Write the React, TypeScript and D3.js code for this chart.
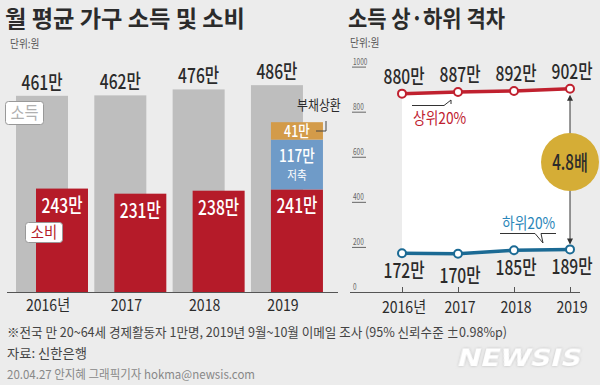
import { area, line, scaleBand, scaleLinear, scalePoint } from 'd3';

// Two panels: monthly household income vs spending (bars) and top/bottom 20% income gap (lines).

const years = ['2016', '2017', '2018', '2019'];
const yearLabels = ['2016년', '2017', '2018', '2019'];
const income = [461, 462, 476, 486];
const spending = [243, 231, 238, 241];
// 2019 breakdown stacked above spending
const extra2019 = [
  { key: 'save', value: 117, label: '117만', sub: '저축' },
  { key: 'debt', value: 41, label: '41만', sub: '' },
];
const top20 = [880, 887, 892, 902];
const bottom20 = [172, 170, 185, 189];
const bottomLabelDy = [25, 29, 25, 25];
const yTicks = [0, 200, 400, 600, 800, 1000];

const FONT = '"Noto Sans CJK KR", "Noto Sans", sans-serif';
const C = {
  bg: '#ececec',
  ink: '#2b2b2b',
  muted: '#555',
  grayBar: '#bebebe',
  red: '#b51b29',
  blueBar: '#6f9bc8',
  orange: '#d39b49',
  redLine: '#c0212f',
  blueLine: '#1b6a94',
  blueText: '#2b86b9',
  gold: '#d5ad36',
};

function T({
  x,
  y,
  size,
  sx = 0.8,
  anchor = 'middle',
  fill = C.ink,
  weight = 400,
  children,
}: {
  x: number;
  y: number;
  size: number;
  sx?: number;
  anchor?: 'start' | 'middle' | 'end';
  fill?: string;
  weight?: number;
  children: any;
}) {
  return (
    <text transform={`translate(${x},${y}) scale(${sx},1)`} textAnchor={anchor} fontSize={size} fill={fill} fontWeight={weight}>
      {children}
    </text>
  );
}

function IncomeBars() {
  const base = 292;
  const xs = scaleBand<string>().domain(years).range([16, 323]).paddingInner(0.08).paddingOuter(0);
  const ys = scaleLinear().domain([0, 500]).range([base, base - 212.8]);
  const barW = 52;
  const shift = 20;
  const last = years[years.length - 1]!;

  let acc = spending[spending.length - 1]!;
  const stacked = extra2019.map((d) => {
    const s = { ...d, y0: acc, y1: acc + d.value };
    acc += d.value;
    return s;
  });
  const stackColor: Record<string, string> = { save: C.blueBar, debt: C.orange };

  return (
    <g>
      {years.map((yr, i) => (
        <rect key={yr} x={xs(yr)!} y={ys(income[i]!)} width={barW} height={base - ys(income[i]!)} fill={C.grayBar} />
      ))}
      {years.map((yr, i) => (
        <rect key={yr} x={xs(yr)! + shift} y={ys(spending[i]!)} width={barW} height={base - ys(spending[i]!)} fill={C.red} />
      ))}
      {stacked.map((s) => (
        <rect key={s.key} x={xs(last)! + shift} y={ys(s.y1)} width={barW} height={ys(s.y0) - ys(s.y1)} fill={stackColor[s.key]} />
      ))}
      {years.map((yr, i) => (
        <T key={yr} x={xs(yr)! + barW / 2} y={ys(income[i]!) - 6} size={20} sx={0.78} weight={500}>
          {income[i]}만
        </T>
      ))}
      {years.map((yr, i) => (
        <T key={yr} x={xs(yr)! + shift + barW / 2} y={ys(spending[i]!) + 24} size={20} sx={0.78} weight={500} fill="#fff">
          {spending[i]}만
        </T>
      ))}
      {/* 2019 savings / debt labels */}
      <T x={xs(last)! + shift + barW / 2} y={ys(stacked[0]!.y1) + 22} size={17} sx={0.8} weight={500} fill="#fff">
        {stacked[0]!.label}
      </T>
      <T x={xs(last)! + shift + barW / 2} y={ys(stacked[0]!.y1) + 40} size={12} sx={0.88} fill="#fff">
        {stacked[0]!.sub}
      </T>
      <T x={xs(last)! + shift + barW / 2} y={ys(stacked[1]!.y1) + 15} size={16} sx={0.78} weight={500} fill="#fff">
        {stacked[1]!.label}
      </T>
      <T x={297} y={110} size={14} sx={0.85} anchor="start">
        부채상환
      </T>
      <path d="M326,121 V131 H316" fill="none" stroke="#444" strokeWidth={1} />

      {/* legend tags */}
      <rect x={5.5} y={101.5} width={38} height={23} rx={3} fill="#fff" stroke="#999" />
      <T x={24.5} y={119} size={17} sx={0.9} fill="#b0b0b0">소득</T>
      <rect x={25.5} y={222.5} width={37} height={20} rx={3} fill="#fff" stroke="#999" />
      <T x={44} y={238} size={16} sx={0.9} fill={C.red}>소비</T>

      <line x1={7} x2={338} y1={base + 0.5} y2={base + 0.5} stroke="#555" strokeWidth={1} />
      {years.map((yr, i) => (
        <T key={yr} x={xs(yr)! + xs.bandwidth() / 2 - 4} y={311} size={16} sx={0.88}>
          {yearLabels[i]}
        </T>
      ))}
    </g>
  );
}

function GapLines() {
  const base = 292;
  const xs = scalePoint<string>().domain(years).range([402, 570]);
  const ys = scaleLinear().domain([0, 1000]).range([base, 66.6]);
  const rows = years.map((yr, i) => ({ yr, hi: top20[i]!, lo: bottom20[i]! }));

  const band = area<(typeof rows)[number]>()
    .x((d) => xs(d.yr)!)
    .y0((d) => ys(d.lo))
    .y1((d) => ys(d.hi));
  const hiLine = line<(typeof rows)[number]>().x((d) => xs(d.yr)!).y((d) => ys(d.hi));
  const loLine = line<(typeof rows)[number]>().x((d) => xs(d.yr)!).y((d) => ys(d.lo));
  const xEnd = xs(years[years.length - 1]!)!;
  const hiEnd = ys(top20[top20.length - 1]!);
  const loEnd = ys(bottom20[bottom20.length - 1]!);
  const circleY = (hiEnd + loEnd) / 2 - 7;

  return (
    <g>
      <path d={band(rows) ?? undefined} fill="#fff" />
      {yTicks.map((t) => (
        <g key={t}>
          {t > 0 && <line x1={352} x2={366} y1={ys(t) + 0.5} y2={ys(t) + 0.5} stroke="#666" strokeWidth={1} />}
          <T x={353} y={ys(t) - 2} size={9} sx={0.72} anchor="start" fill="#666">
            {t}
          </T>
        </g>
      ))}
      <line x1={350} x2={580} y1={base + 0.5} y2={base + 0.5} stroke="#555" strokeWidth={1} />
      {years.map((yr, i) => (
        <g key={yr}>
          <line x1={xs(yr)! + 0.5} x2={xs(yr)! + 0.5} y1={base - 5} y2={base} stroke="#555" />
          <T x={xs(yr)! + 2} y={313} size={16} sx={0.88}>
            {yearLabels[i]}
          </T>
        </g>
      ))}

      {/* gap arrow + badge */}
      <line x1={xEnd} x2={xEnd} y1={hiEnd + 8} y2={loEnd - 6} stroke="#333" strokeWidth={1} />
      <path d={`M${xEnd},${hiEnd + 6} l-3,6 h6 z`} fill="#333" />
      <path d={`M${xEnd},${loEnd - 5} l-3,-6 h6 z`} fill="#333" />
      <circle cx={xEnd} cy={circleY} r={29} fill={C.gold} />
      <T x={xEnd} y={circleY + 8} size={21} sx={0.72} weight={500}>
        4.8배
      </T>

      <path d={hiLine(rows) ?? undefined} fill="none" stroke={C.redLine} strokeWidth={3.5} />
      <path d={loLine(rows) ?? undefined} fill="none" stroke={C.blueLine} strokeWidth={3.5} />
      {rows.map((d) => (
        <g key={d.yr}>
          <circle cx={xs(d.yr)!} cy={ys(d.hi)} r={4} fill="#fff" stroke={C.redLine} strokeWidth={2} />
          <circle cx={xs(d.yr)!} cy={ys(d.lo)} r={4} fill="#fff" stroke={C.blueLine} strokeWidth={2} />
        </g>
      ))}
      {rows.map((d, i) => (
        <g key={d.yr}>
          <T x={xs(d.yr)! + 2} y={ys(d.hi) - 10} size={20} sx={0.78} weight={500}>
            {d.hi}만
          </T>
          <T x={xs(d.yr)! + 2} y={ys(d.lo) + bottomLabelDy[i]!} size={20} sx={0.78} weight={500}>
            {d.lo}만
          </T>
        </g>
      ))}

      {/* series callouts */}
      <path d="M412,105.5 H444 L451,100 V104" fill="none" stroke="#333" strokeWidth={1} />
      <T x={413} y={124} size={16} sx={0.86} anchor="start" fill={C.redLine}>
        상위20%
      </T>
      <path d="M500,233.5 H535 L543,243 L541,233.5 H556" fill="none" stroke="#333" strokeWidth={1} />
      <T x={502} y={229} size={16} sx={0.86} anchor="start" fill={C.blueText}>
        하위20%
      </T>
    </g>
  );
}

export default function App() {
  return (
    <svg
      width={600}
      height={385}
      viewBox="0 0 600 385"
      style={{ position: 'absolute', left: 0, top: 0, fontFamily: FONT }}
    >
      <defs>
        <filter id="soft" x="-10%" y="-30%" width="120%" height="160%">
          <feDropShadow dx={0} dy={0} stdDeviation={1.6} floodColor="#9a9a9a" floodOpacity={0.6} />
        </filter>
      </defs>
      <rect width={600} height={385} fill={C.bg} />

      <text x={5} y={27} fontSize={23} fontWeight={700} fill={C.ink} textLength={240} lengthAdjust="spacingAndGlyphs">
        월 평균 가구 소득 및 소비
      </text>
      <T x={10} y={48} size={11} sx={0.88} anchor="start" fill={C.muted}>
        단위:원
      </T>
      <text x={348} y={27} fontSize={23} fontWeight={700} fill={C.ink} textLength={157} lengthAdjust="spacingAndGlyphs">
        소득 상·하위 격차
      </text>
      <T x={350} y={47} size={11} sx={0.88} anchor="start" fill={C.muted}>
        단위:원
      </T>

      <IncomeBars />
      <GapLines />

      <text x={7} y={337} fontSize={13} fill="#444" textLength={500} lengthAdjust="spacingAndGlyphs">
        ※전국 만 20~64세 경제활동자 1만명, 2019년 9월~10월 이메일 조사 (95% 신뢰수준 ±0.98%p)
      </text>
      <text x={7} y={358} fontSize={13} fill="#444" textLength={80} lengthAdjust="spacingAndGlyphs">
        자료: 신한은행
      </text>
      <text x={7} y={379} fontSize={12} fill="#888" textLength={248} lengthAdjust="spacingAndGlyphs">
        20.04.27 안지혜 그래픽기자 hokma@newsis.com
      </text>

      <g transform="translate(452,366) skewX(-14)" filter="url(#soft)">
        <text x={4} y={0} fontSize={24} fontWeight={700} fontFamily='"DejaVu Sans", sans-serif' fill="#fff" textLength={124} lengthAdjust="spacingAndGlyphs">
          NEWSIS
        </text>
      </g>
    </svg>
  );
}
